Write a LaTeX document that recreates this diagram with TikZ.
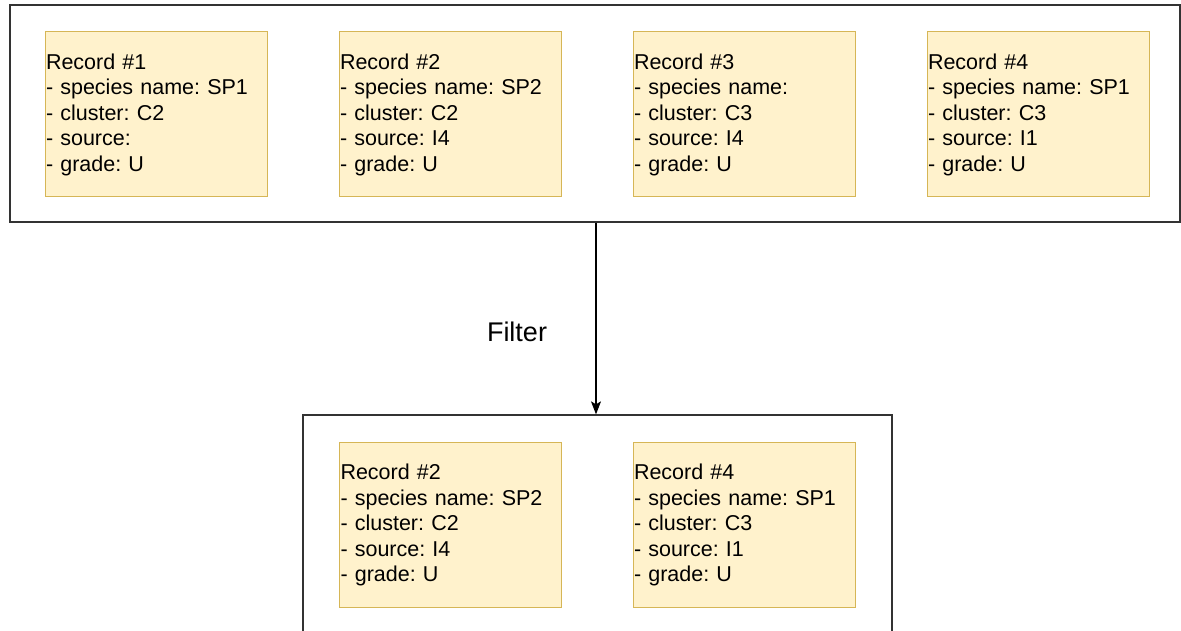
\documentclass[tikz,border=0pt]{standalone}
\usepackage{fontspec}
\setmainfont{Liberation Sans}
\usetikzlibrary{arrows.meta}
\frenchspacing
\definecolor{notefill}{HTML}{FFF2CC}
\definecolor{notedraw}{HTML}{D6B656}
\definecolor{framedraw}{HTML}{333333}
\begin{document}
\begin{tikzpicture}[x=1pt,y=-1pt,
  frame/.style={draw=framedraw,line width=1.3pt,fill=white,rectangle,inner sep=0pt},
  record/.style={draw=notedraw,line width=1pt,fill=notefill,rectangle,
    minimum width=222pt,minimum height=165pt,inner xsep=1pt,inner ysep=0pt,
    text width=220pt,align=left,font=\fontsize{21.5}{25.5}\selectfont},
  flow/.style={draw=black,line width=1.1pt,-{Stealth[length=13pt,width=10pt,inset=3pt]}}]
\useasboundingbox (0,0) rectangle (1181,631);
\begin{scope}
\clip (0,0) rectangle (1181,631);
% full record set
\node[frame,minimum width=1170pt,minimum height=217pt] (all) at (595,113.5) {};
\node[record] (r1) at (156,114.5) {Record \#1\\- species name: SP1\\- cluster: C2\\- source:\\- grade: U};
\node[record] (r2) at (450,114.5) {Record \#2\\- species name: SP2\\- cluster: C2\\- source: I4\\- grade: U};
\node[record] (r3) at (744,114.5) {Record \#3\\- species name:\\- cluster: C3\\- source: I4\\- grade: U};
\node[record] (r4) at (1038,114.5) {Record \#4\\- species name: SP1\\- cluster: C3\\- source: I1\\- grade: U};
% filtered record set
\node[frame,minimum width=589pt,minimum height=260pt] (kept) at (597.5,545) {};
\node[record] (k2) at (450.5,525) {Record \#2\\- species name: SP2\\- cluster: C2\\- source: I4\\- grade: U};
\node[record] (k4) at (744,525) {Record \#4\\- species name: SP1\\- cluster: C3\\- source: I1\\- grade: U};
% filter step
\coordinate (split) at (596,0);
\draw[flow] (all.south -| split) -- (kept.north -| split);
\node[font=\fontsize{27}{32}\selectfont] (filterlabel) at (517,332) {Filter};
\end{scope}
\end{tikzpicture}
\end{document}
